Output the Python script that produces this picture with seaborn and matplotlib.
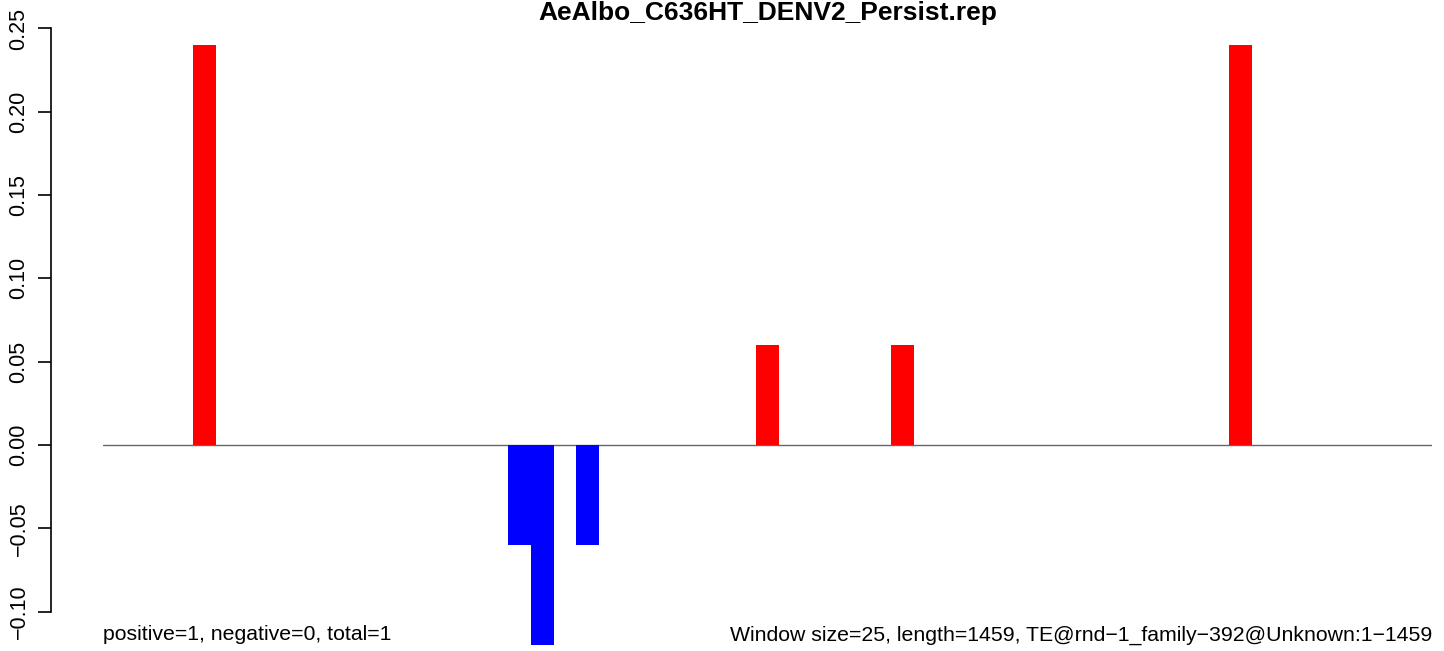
"""
Windowed score bars for a TE family (R barplot style) redrawn with seaborn.
"""

import matplotlib
matplotlib.use('Agg')
import matplotlib.pyplot as plt
import numpy as np
import pandas as pd
import seaborn as sns

title = 'AeAlbo_C636HT_DENV2_Persist.rep'
left_note = 'positive=1, negative=0, total=1'
right_note = 'Window size=25, length=1459, TE@rnd\u22121_family\u2212392@Unknown:1\u22121459'

# one value per 25 bp window (59 windows)
window = list(range(59))
score = [0, 0, 0, 0, 0.24, 0, 0, 0, 0, 0,
         0, 0, 0, 0, 0, 0, 0, 0, -0.06, -0.12,
         0, -0.06, 0, 0, 0, 0, 0, 0, 0, 0.06,
         0, 0, 0, 0, 0, 0.06, 0, 0, 0, 0,
         0, 0, 0, 0, 0, 0, 0, 0, 0, 0,
         0.24, 0, 0, 0, 0, 0, 0, 0, 0]
yticks = [-0.10, -0.05, 0.00, 0.05, 0.10, 0.15, 0.20, 0.25]

df = pd.DataFrame({'window': window, 'score': score})
df['sign'] = np.where(df['score'] < 0, 'neg', 'pos')

sns.set_style('white')
plt.rcParams['font.family'] = ['Liberation Sans', 'DejaVu Sans']
plt.rcParams['text.color'] = 'black'
plt.rcParams['ytick.color'] = 'black'

W, H = 1444, 651
fig = plt.figure(figsize=(W / 100, H / 100), dpi=100)

# pixel geometry of the reference plot region
x_left, x_right = 103, 1432
y_zero, px_per_unit = 445, 1666
ylo, yhi = -0.122, 0.26
top_px = y_zero - yhi * px_per_unit
bot_px = y_zero - ylo * px_per_unit
ax = fig.add_axes([x_left / W, 1 - bot_px / H, (x_right - x_left) / W, (bot_px - top_px) / H])

sns.barplot(data=df, x='window', y='score', hue='sign',
            palette={'pos': '#ff0000', 'neg': '#0000ff'},
            width=1, dodge=False, saturation=1, linewidth=0,
            legend=False, ax=ax)
ax.axhline(0, color='#666666', lw=1, zorder=0.5)

for side in ['top', 'right', 'bottom']:
    ax.spines[side].set_visible(False)
ax.spines['left'].set_position(('outward', (x_left - 51) * 0.72))
ax.spines['left'].set_bounds(-0.10, 0.25)
ax.spines['left'].set_color('black')
ax.spines['left'].set_linewidth(1.2)

ax.set_xlim(-0.5, 58.5)
ax.set_ylim(ylo, yhi)
ax.set_xlabel('')
ax.set_ylabel('')
ax.set_xticks([])
ax.set_yticks(yticks)
ax.set_yticklabels([f'{v:.2f}'.replace('-', '\u2212') for v in yticks])
ax.tick_params(axis='y', left=True, length=9.5, width=1.2, color='black',
               pad=6, labelsize=15.5, labelrotation=90)
for lab in ax.get_yticklabels():
    lab.set_va('center')

fig.text((x_left + x_right) / 2 / W, 1 - 13 / H, title,
         ha='center', va='center', fontsize=19, fontweight='bold')
fig.text(x_left / W, 1 - 635 / H, left_note, ha='left', va='center', fontsize=15.3)
fig.text(x_right / W, 1 - 635 / H, right_note, ha='right', va='center', fontsize=15.3)

fig.savefig('out.png', dpi=100)
